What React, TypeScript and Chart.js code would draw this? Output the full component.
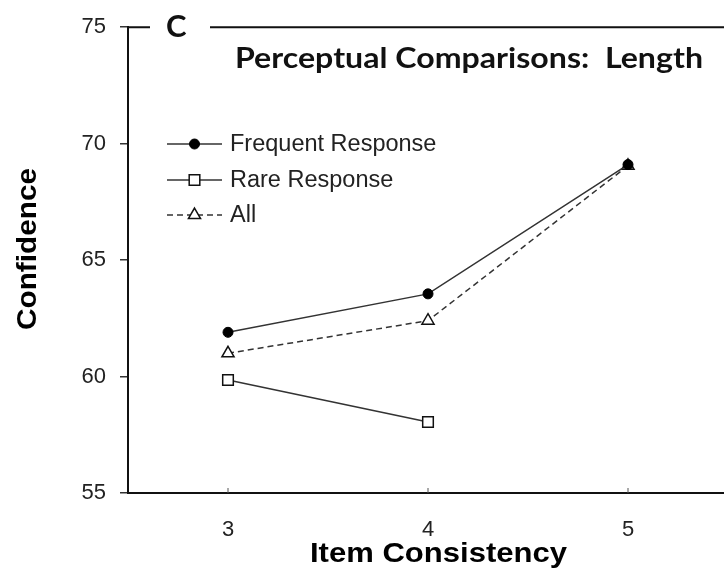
import React, { useEffect, useRef } from "react";
import { Chart, registerables } from "chart.js";

Chart.register(...registerables);

const categories = [3, 4, 5];
const frequentResponse: (number | null)[] = [61.9, 63.55, 69.1];
const rareResponse: (number | null)[] = [59.85, 58.05, null];
const allResponses: (number | null)[] = [61.0, 62.4, 69.05];
const yTicks = [55, 60, 65, 70, 75];
const seriesLabels = ["Frequent Response", "Rare Response", "All"];
const chartTitle = "Perceptual Comparisons:  Length";
const panelLabel = "C";
const xTitle = "Item Consistency";
const yTitle = "Confidence";

const INK = "#222";

function stretchedText(
  ctx: CanvasRenderingContext2D,
  text: string,
  x: number,
  y: number,
  targetWidth: number,
  rotate = 0
) {
  const w = ctx.measureText(text).width;
  const sx = targetWidth / w;
  ctx.save();
  ctx.translate(x, y);
  if (rotate) ctx.rotate(rotate);
  ctx.scale(sx, 1);
  ctx.textAlign = "center";
  ctx.textBaseline = "alphabetic";
  ctx.fillText(text, 0, 0);
  ctx.restore();
}

function drawMarker(ctx: CanvasRenderingContext2D, style: string, r: number, x: number, y: number) {
  ctx.beginPath();
  if (style === "circle") {
    ctx.arc(x, y, r, 0, Math.PI * 2);
  } else if (style === "rect") {
    const s = Math.SQRT1_2 * r;
    ctx.rect(x - s, y - s, 2 * s, 2 * s);
  } else if (style === "triangle") {
    ctx.moveTo(x, y - r);
    ctx.lineTo(x + r * Math.sin(Math.PI / 3), y + r * 0.5);
    ctx.lineTo(x - r * Math.sin(Math.PI / 3), y + r * 0.5);
    ctx.closePath();
  }
  ctx.fill();
  ctx.stroke();
}

const overlayPlugin = {
  id: "overlay",
  afterDraw(chart: any) {
    const { ctx, chartArea } = chart;
    ctx.save();
    // top frame with gap for panel label
    ctx.strokeStyle = "#111";
    ctx.lineWidth = 2;
    ctx.beginPath();
    ctx.moveTo(chartArea.left, chartArea.top);
    ctx.lineTo(chartArea.left + 22, chartArea.top);
    ctx.moveTo(chartArea.left + 82, chartArea.top);
    ctx.lineTo(chartArea.right, chartArea.top);
    ctx.stroke();

    ctx.fillStyle = "#111";
    ctx.font = "bold 31px Lato";
    ctx.textAlign = "left";
    ctx.textBaseline = "middle";
    ctx.fillText(panelLabel, chartArea.left + 38, chartArea.top);

    ctx.font = "bold 28px Lato";
    stretchedText(ctx, chartTitle, 469, 68, 468);

    // axis titles
    ctx.fillStyle = "#000";
    ctx.font = "bold 28px 'Liberation Sans'";
    stretchedText(ctx, xTitle, 438.5, 562, 257);
    stretchedText(ctx, yTitle, 36, 249, 162, -Math.PI / 2);

    // inward x ticks
    const xs = chart.scales.x;
    ctx.strokeStyle = "#555";
    ctx.lineWidth = 1;
    categories.forEach((c) => {
      const px = xs.getPixelForValue(c);
      ctx.beginPath();
      ctx.moveTo(px, chartArea.bottom);
      ctx.lineTo(px, chartArea.bottom - 5);
      ctx.stroke();
    });

    // legend
    const ys = chart.scales.y;
    const rows = [70, 68.45, 66.95];
    chart.data.datasets.forEach((ds: any, i: number) => {
      const y = Math.round(ys.getPixelForValue(rows[i]));
      const x0 = chartArea.left + 39;
      const x1 = chartArea.left + 94;
      ctx.strokeStyle = ds.borderColor;
      ctx.lineWidth = ds.borderWidth;
      ctx.setLineDash(ds.borderDash || []);
      ctx.beginPath();
      ctx.moveTo(x0, y);
      ctx.lineTo(x1, y);
      ctx.stroke();
      ctx.setLineDash([]);
      ctx.fillStyle = ds.pointBackgroundColor;
      ctx.strokeStyle = ds.pointBorderColor;
      ctx.lineWidth = ds.pointBorderWidth;
      drawMarker(ctx, ds.pointStyle, ds.pointRadius, (x0 + x1) / 2, y);
      ctx.fillStyle = INK;
      ctx.font = "23.5px 'Liberation Sans'";
      ctx.textAlign = "left";
      ctx.textBaseline = "middle";
      ctx.fillText(seriesLabels[i], chartArea.left + 102, y + 1);
    });
    ctx.restore();
  },
};

export default function App() {
  const ref = useRef<HTMLCanvasElement>(null);
  useEffect(() => {
    if (!ref.current) return;
    const toPts = (arr: (number | null)[]) =>
      categories.map((c, i) => ({ x: c, y: arr[i] }));
    const chart = new Chart(ref.current, {
      type: "line",
      data: {
        datasets: [
          {
            label: seriesLabels[0],
            data: toPts(frequentResponse) as any,
            borderColor: "#333",
            borderWidth: 1.5,
            pointStyle: "circle",
            pointRadius: 5,
            pointBackgroundColor: "#000",
            pointBorderColor: "#000",
            pointBorderWidth: 1,
          },
          {
            label: seriesLabels[1],
            data: toPts(rareResponse) as any,
            borderColor: "#333",
            borderWidth: 1.5,
            pointStyle: "rect",
            pointRadius: 7.5,
            pointBackgroundColor: "#fff",
            pointBorderColor: "#111",
            pointBorderWidth: 1.5,
            spanGaps: false,
          },
          {
            label: seriesLabels[2],
            data: toPts(allResponses) as any,
            borderColor: "#333",
            borderWidth: 1.5,
            borderDash: [6, 4],
            pointStyle: "triangle",
            pointRadius: 7,
            pointBackgroundColor: "#fff",
            pointBorderColor: "#111",
            pointBorderWidth: 1.5,
          },
        ],
      },
      options: {
        responsive: false,
        animation: false,
        layout: { autoPadding: false, padding: { top: 25, left: 0, right: 0, bottom: 0 } },
        plugins: {
          legend: { display: false },
          title: { display: false },
          tooltip: { enabled: false },
        },
        scales: {
          x: {
            type: "linear",
            min: 2.5,
            max: 5.48,
            afterFit: (s: any) => {
              s.height = 77;
              s.paddingLeft = 0;
              s.paddingRight = 0;
            },
            afterBuildTicks: (s: any) => {
              s.ticks = categories.map((v) => ({ value: v }));
            },
            border: { display: true, color: "#111", width: 2 },
            grid: { display: false, drawOnChartArea: false, drawTicks: false },
            ticks: {
              color: INK,
              font: { family: "'Liberation Sans'", size: 22 },
              padding: 24,
              callback: (v: any) => String(v),
            },
            title: { display: false },
          },
          y: {
            min: 55,
            max: 75,
            afterFit: (s: any) => {
              s.width = 128;
            },
            afterBuildTicks: (s: any) => {
              s.ticks = yTicks.map((v) => ({ value: v }));
            },
            border: { display: true, color: "#111", width: 2 },
            grid: {
              drawOnChartArea: false,
              drawTicks: true,
              tickLength: 8,
              color: "#333",
              lineWidth: 1.5,
            },
            ticks: {
              color: INK,
              font: { family: "'Liberation Sans'", size: 22 },
              padding: 14,
            },
            title: { display: false },
          },
        },
      },
      plugins: [overlayPlugin],
    });
    return () => chart.destroy();
  }, []);
  return (
    <div style={{ position: "fixed", left: 0, top: 0, width: 724, height: 570, background: "#fff" }}>
      <canvas ref={ref} width={724} height={570} />
    </div>
  );
}
